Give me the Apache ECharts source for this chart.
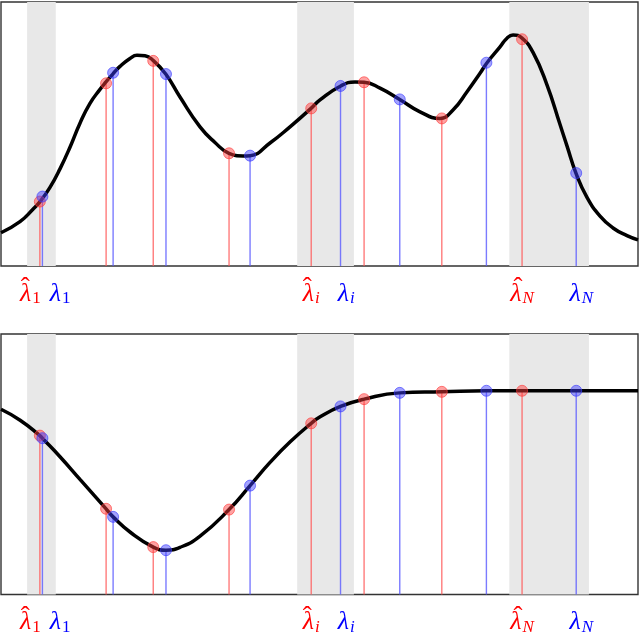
<!DOCTYPE html>
<html>
<head>
<meta charset="utf-8">
<script src="https://cdn.jsdelivr.net/npm/echarts@6/dist/echarts.min.js"></script>
<style>html,body{margin:0;padding:0;background:#fff}#c{width:640px;height:636px}</style>
</head>
<body>
<div id="c"></div>
<script>
// x positions of the sampled eigenvalues (shared by both panels)
const redX  = [6.1, 16.5, 23.9, 35.8, 48.7, 57.0, 69.2, 81.8];
const blueX = [6.5, 17.6, 25.9, 39.1, 53.3, 62.6, 76.2, 90.3];
// top panel values
const topRedY  = [24.4, 69.2, 77.7, 42.7, 59.7, 69.6, 55.9, 85.9];
const topBlueY = [26.3, 73.2, 72.7, 41.8, 68.2, 63.1, 77.0, 35.2];
// bottom panel values
const botRedY  = [61.0, 32.9, 18.2, 32.6, 65.7, 75.0, 77.8, 78.2];
const botBlueY = [60.0, 29.8, 17.0, 41.8, 72.2, 77.4, 78.2, 78.2];
// top curve
const topCurveX = [0, 2.98, 5.02, 6.12, 7.69, 9.26, 10.83, 12.40, 13.97, 15.54, 16.48, 17.58, 18.68, 20.25, 21.35, 22.61, 23.86, 25.86, 28.10, 31.24, 33.59, 35.79, 37.99, 39.09, 42.23, 45.37, 48.67, 50.08, 53.33, 55.57, 56.99, 59.50, 62.59, 65.78, 68.92, 70.96, 73.16, 75.20, 76.30, 78.34, 79.43, 80.38, 81.79, 83.52, 85.71, 87.76, 88.85, 90.27, 91.99, 94.04, 96.08, 98.27, 100];
const topCurveY = [12.6, 16.8, 21.5, 24.4, 29.8, 36.8, 45.0, 54.1, 61.6, 66.9, 69.7, 72.8, 75.6, 78.6, 79.8, 79.6, 77.9, 72.7, 64.0, 52.7, 46.8, 42.7, 41.7, 41.8, 46.6, 52.7, 59.7, 62.9, 68.2, 69.7, 69.6, 67.4, 63.1, 58.4, 55.9, 59.1, 66.0, 73.0, 77.0, 83.0, 86.3, 87.5, 86.3, 80.9, 68.6, 53.6, 45.5, 35.1, 26.0, 18.9, 14.4, 11.5, 9.9];
// bottom curve
const botCurveX = [0, 3.0, 6.1, 6.5, 9.3, 12.4, 16.5, 17.6, 20.3, 23.9, 25.9, 28.1, 31.2, 35.8, 39.1, 42.2, 45.4, 48.7, 50.1, 53.3, 57.0, 62.6, 69.2, 76.2, 81.8, 90.3, 100];
const botCurveY = [71.1, 66.9, 61.0, 60.0, 52.8, 44.2, 32.9, 29.8, 23.9, 18.2, 17.0, 18.1, 22.3, 32.6, 41.8, 50.6, 58.6, 65.7, 68.2, 72.2, 75.0, 77.4, 77.8, 78.2, 78.2, 78.2, 78.2];
// shaded bands
const bands = [[4.1, 8.6], [46.5, 55.4], [79.8, 92.3]];
// tick labels
const labelPos  = [4.6, 9.3, 48.7, 54.2, 81.8, 91.1];
const labelSub  = ['1', '1', 'i', 'i', 'N', 'N'];
const labelHat  = [true, false, true, false, true, false];
const tickPos = [redX[0], blueX[0], redX[4], blueX[4], redX[7], blueX[7]];

const pair = (xs, ys) => xs.map((x, i) => [x, ys[i]]);

const grids = [
  {left: 1, right: 2, top: 2, height: 264},
  {left: 1, right: 2, top: 334, height: 265}
];

function labelFmt(v) {
  let k = 0, best = 1e9;
  labelPos.forEach((p, i) => { const d = Math.abs(p - v); if (d < best) { best = d; k = i; } });
  const c = labelHat[k] ? 'r' : 'b';
  const digit = /[0-9]/.test(labelSub[k]);
  const subStyle = c + (digit ? 's1' : 's');
  const hatStyle = c + (digit ? 'h1' : 'h');
  const hat = labelHat[k] ? '{' + hatStyle + '|ˆ}' : '{' + hatStyle + '| }';
  return hat + '\n{' + c + '|λ}{' + subStyle + '|' + labelSub[k] + '}';
}

const FONT = 'Liberation Serif';
const rich = {};
['r', 'b'].forEach(c => {
  const col = c === 'r' ? '#ff0000' : '#0000ff';
  rich[c] = {color: col, fontFamily: FONT, fontStyle: 'italic', fontSize: 26, lineHeight: 26};
  rich[c + 's'] = {color: col, fontFamily: FONT, fontStyle: 'italic', fontSize: 17, lineHeight: 26, padding: [10, 0, 0, 1]};
  rich[c + 's1'] = {color: col, fontFamily: FONT, fontStyle: 'normal', fontSize: 17, lineHeight: 26, padding: [10, 0, 0, 1]};
  rich[c + 'h'] = {color: col, fontFamily: FONT, fontStyle: 'normal', fontSize: 27, lineHeight: 6, padding: [22, 8, 0, 0]};
  rich[c + 'h1'] = {color: col, fontFamily: FONT, fontStyle: 'normal', fontSize: 27, lineHeight: 6, padding: [22, 10, 0, 0]};
});

const xAxes = [], yAxes = [], series = [];
[0, 1].forEach(g => {
  xAxes.push({
    gridIndex: g, type: 'value', min: 0, max: 100, position: 'bottom',
    axisLine: {show: false}, splitLine: {show: false},
    axisTick: {show: false},
    axisLabel: {show: true, customValues: labelPos, formatter: labelFmt, rich: rich, margin: 9}
  });
  xAxes.push({
    gridIndex: g, type: 'value', min: 0, max: 100, position: 'top',
    axisLine: {show: false}, splitLine: {show: false},
    axisTick: {show: true, inside: true, length: 5, customValues: tickPos, lineStyle: {color: '#999', width: 1}},
    axisLabel: {show: false}
  });
  yAxes.push({gridIndex: g, type: 'value', min: 0, max: 100, show: false, splitLine: {show: false}});

  const rY = g === 0 ? topRedY : botRedY;
  const bY = g === 0 ? topBlueY : botBlueY;
  const cx = g === 0 ? topCurveX : botCurveX;
  const cy = g === 0 ? topCurveY : botCurveY;
  series.push({
    type: 'line', xAxisIndex: 2 * g, yAxisIndex: g, data: pair(cx, cy),
    smooth: 0.5, symbol: 'none', z: 3, silent: true,
    lineStyle: {color: '#000', width: 3.5},
    markArea: {silent: true, itemStyle: {color: '#e8e8e8'}, data: bands.map(b => [{xAxis: b[0]}, {xAxis: b[1]}])}
  });
  series.push({
    type: 'bar', xAxisIndex: 2 * g, yAxisIndex: g, data: pair(redX, rY),
    barWidth: 1.4, barGap: '-100%', z: 2, silent: true, itemStyle: {color: 'rgba(255,90,90,0.8)'}
  });
  series.push({
    type: 'bar', xAxisIndex: 2 * g, yAxisIndex: g, data: pair(blueX, bY),
    barWidth: 1.4, barGap: '-100%', z: 2, silent: true, itemStyle: {color: 'rgba(90,90,255,0.8)'}
  });
  series.push({
    type: 'scatter', xAxisIndex: 2 * g, yAxisIndex: g, data: pair(redX, rY),
    symbolSize: 11, z: 4, silent: true,
    itemStyle: {color: 'rgba(255,60,60,0.6)', borderColor: 'rgba(255,60,60,0.8)', borderWidth: 1}
  });
  series.push({
    type: 'scatter', xAxisIndex: 2 * g, yAxisIndex: g, data: pair(blueX, bY),
    symbolSize: 11, z: 4, silent: true,
    itemStyle: {color: 'rgba(60,60,255,0.6)', borderColor: 'rgba(60,60,255,0.8)', borderWidth: 1}
  });
});

const chart = echarts.init(document.getElementById('c'), null, {renderer: 'canvas'});
chart.setOption({
  animation: false,
  backgroundColor: '#fff',
  grid: grids.map(g => Object.assign({show: true, borderColor: '#333', borderWidth: 1.4, backgroundColor: '#fff'}, g)),
  xAxis: xAxes,
  yAxis: yAxes,
  series: series
});
</script>
</body>
</html>
